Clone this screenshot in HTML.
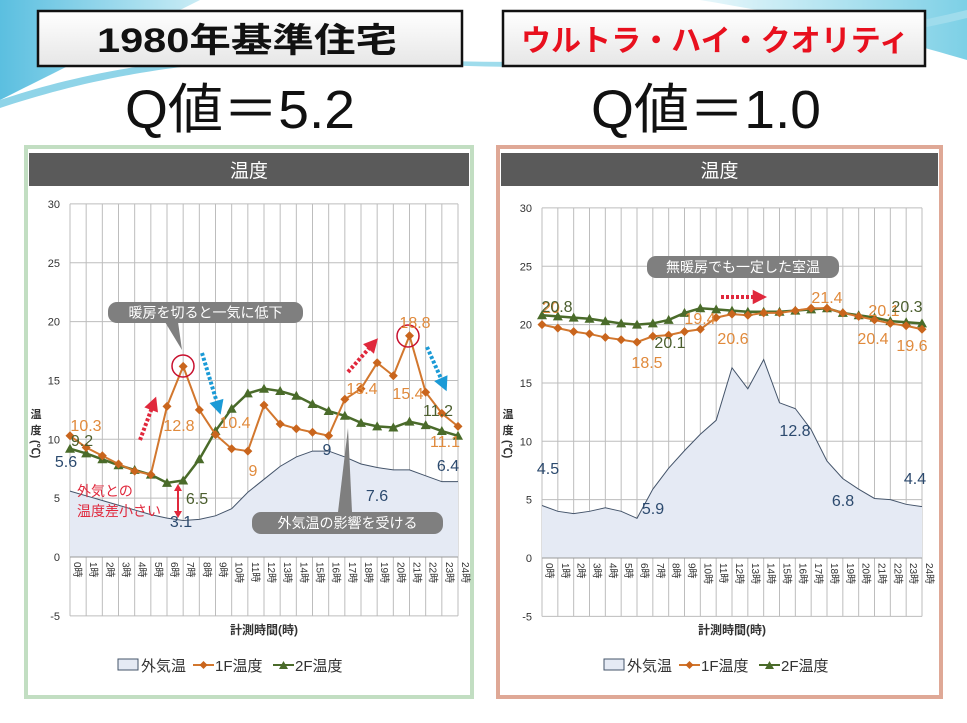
<!DOCTYPE html>
<html><head><meta charset="utf-8"><style>
html,body{margin:0;padding:0;background:#fff;}
svg{display:block;font-family:"Liberation Sans","Noto Sans CJK JP",sans-serif;}
</style></head><body>
<svg id="s" width="967" height="723" viewBox="0 0 967 723" xmlns="http://www.w3.org/2000/svg">
<defs>
<linearGradient id="sw" x1="0" y1="0" x2="1" y2="0"><stop offset="0" stop-color="#5bbfe0"/><stop offset="1" stop-color="#c9ecf5"/></linearGradient>
<linearGradient id="sw2" x1="0" y1="0" x2="1" y2="0"><stop offset="0" stop-color="#e8f7fb"/><stop offset="1" stop-color="#7dd0e6"/></linearGradient>
<linearGradient id="bx" x1="0" y1="0" x2="0" y2="1"><stop offset="0" stop-color="#ffffff"/><stop offset="1" stop-color="#e6e6e6"/></linearGradient>
</defs>
<rect width="967" height="723" fill="#fff"/>
<path d="M0 0 H200 C120 40 60 70 0 100 Z" fill="url(#sw)"/>
<path d="M0 100 C60 80 140 60 260 55 L260 60 C150 66 70 85 0 108 Z" fill="#8fd4e8"/>
<path d="M700 0 H967 V60 C900 40 820 20 700 0 Z" fill="url(#sw2)"/>
<path d="M420 60 C600 68 800 50 967 10 L967 18 C800 58 600 74 420 64 Z" fill="#9fdcec"/>
<rect x="38" y="11" width="424" height="55" fill="url(#bx)" stroke="#111" stroke-width="2.5"/>
<text x="247" y="52" text-anchor="middle" font-size="34" font-weight="bold" fill="#111" textLength="300" lengthAdjust="spacingAndGlyphs">1980年基準住宅</text>
<rect x="503" y="11" width="422" height="55" fill="url(#bx)" stroke="#111" stroke-width="2.5"/>
<text x="715" y="51" text-anchor="middle" font-size="30" font-weight="bold" fill="#e8101e" textLength="388" lengthAdjust="spacingAndGlyphs">ウルトラ・ハイ・クオリティ</text>
<text x="240" y="128" text-anchor="middle" font-size="54" fill="#111" textLength="230" lengthAdjust="spacingAndGlyphs">Q値＝5.2</text>
<text x="706" y="128" text-anchor="middle" font-size="54" fill="#111" textLength="230" lengthAdjust="spacingAndGlyphs">Q値＝1.0</text>
<g id="g"></g>
</svg>
<script>
var NS="http://www.w3.org/2000/svg",G=document.getElementById('g');
function el(t,a,txt){var e=document.createElementNS(NS,t);for(var k in a)e.setAttribute(k,a[k]);if(txt!=null)e.textContent=txt;G.appendChild(e);return e;}
function chart(c){
 el('rect',{x:c.px,y:147,width:c.pw,height:550,fill:'#fff',stroke:c.border,'stroke-width':4});
 el('rect',{x:c.px+3,y:153,width:c.pw-6,height:33,fill:'#5a5a5a'});
 el('text',{x:c.px+c.pw/2,y:177,'text-anchor':'middle','font-size':19,fill:'#fff'},'温度');
 var dx=(c.x1-c.x0)/24;function X(i){return c.x0+i*dx;}function Y(v){return c.y0-v*c.k;}
 for(var v=-5;v<=30;v+=5){el('line',{x1:c.x0,x2:c.x1,y1:Y(v),y2:Y(v),stroke:'#bdbdbd','stroke-width':1});
  el('text',{x:c.x0-10,y:Y(v)+4,'text-anchor':'end','font-size':11,fill:'#333'},v);}
 for(var i=0;i<=24;i++){el('line',{x1:X(i),x2:X(i),y1:Y(30),y2:Y(-5),stroke:'#bdbdbd','stroke-width':1});
  el('text',{transform:'translate('+(X(i)+4)+','+(Y(0)+5)+') rotate(90)','font-size':10,fill:'#333'},i+'時');}
 var d='M'+X(0)+','+Y(0);c.o.forEach(function(v,i){d+=' L'+X(i)+','+Y(v);});d+=' L'+X(24)+','+Y(0)+'Z';
 el('path',{d:d,fill:'#e5eaf4',stroke:'none'});
 var l='';c.o.forEach(function(v,i){l+=(i?' L':'M')+X(i)+','+Y(v);});el('path',{d:l,fill:'none',stroke:'#44546a','stroke-width':1});
 el('line',{x1:c.x0,x2:c.x1,y1:Y(0),y2:Y(0),stroke:'#999'});
 l='';c.g.forEach(function(v,i){l+=(i?' L':'M')+X(i)+','+Y(v);});el('path',{d:l,fill:'none',stroke:'#4a6b2a','stroke-width':2.5});
 c.g.forEach(function(v,i){var x=X(i),y=Y(v);el('path',{d:'M'+(x-5)+','+(y+4)+' L'+x+','+(y-5)+' L'+(x+5)+','+(y+4)+'Z',fill:'#4a6b2a'});});
 l='';c.f.forEach(function(v,i){l+=(i?' L':'M')+X(i)+','+Y(v);});el('path',{d:l,fill:'none',stroke:'#d2772e','stroke-width':2});
 c.f.forEach(function(v,i){var x=X(i),y=Y(v);el('path',{d:'M'+x+','+(y-4.5)+' L'+(x+4.5)+','+y+' L'+x+','+(y+4.5)+' L'+(x-4.5)+','+y+'Z',fill:'#c9651d'});});
 el('text',{x:(c.x0+c.x1)/2,y:634,'text-anchor':'middle','font-size':12,'font-weight':'bold',fill:'#333'},'計測時間(時)');
 var ax=c.px+10;
 el('text',{x:ax,y:418,'text-anchor':'middle','font-size':11,'font-weight':'bold',fill:'#333'},'温');
 el('text',{x:ax,y:434,'text-anchor':'middle','font-size':11,'font-weight':'bold',fill:'#333'},'度');
 el('text',{transform:'translate('+(ax-4)+',440) rotate(90)','font-size':11,'font-weight':'bold',fill:'#333'},'(℃)');
 var lx=c.lx;
 el('rect',{x:lx,y:659,width:20,height:11,fill:'#e5eaf4',stroke:'#44546a'});
 el('text',{x:lx+23,y:671,'font-size':15,fill:'#333'},'外気温');
 el('line',{x1:lx+75,x2:lx+96,y1:665,y2:665,stroke:'#d2772e','stroke-width':2});
 el('path',{d:'M'+(lx+85.5)+',661 l4,4 l-4,4 l-4,-4Z',fill:'#c9651d'});
 el('text',{x:lx+97,y:671,'font-size':15,fill:'#333'},'1F温度');
 el('line',{x1:lx+155,x2:lx+176,y1:665,y2:665,stroke:'#4a6b2a','stroke-width':2});
 el('path',{d:'M'+(lx+161)+',669 l4.5,-8 l4.5,8Z',fill:'#4a6b2a'});
 el('text',{x:lx+177,y:671,'font-size':15,fill:'#333'},'2F温度');
}
function lab(x,y,t,col,fs){el('text',{x:x,y:y,'text-anchor':'middle','font-size':fs||16,fill:col},t);}
function callout(x,y,w,h,t,tip){el('path',{d:tip,fill:'#7f7f7f'});el('rect',{x:x,y:y,width:w,height:h,rx:9,fill:'#7f7f7f'});
 el('text',{x:x+w/2,y:y+h/2+5,'text-anchor':'middle','font-size':14,fill:'#fff'},t);}
function darrow(x1,y1,x2,y2,col){el('line',{x1:x1,y1:y1,x2:x2,y2:y2,stroke:col,'stroke-width':4,'stroke-dasharray':'3,2'});
 var a=Math.atan2(y2-y1,x2-x1),s=9;var p=[x2+Math.cos(a)*s,y2+Math.sin(a)*s,x2+Math.cos(a+2.2)*s,y2+Math.sin(a+2.2)*s,x2+Math.cos(a-2.2)*s,y2+Math.sin(a-2.2)*s];
 el('path',{d:'M'+p[0]+','+p[1]+' L'+p[2]+','+p[3]+' L'+p[4]+','+p[5]+'Z',fill:col});}
var OR='#e08a3c',BL='#2c4a6e',GR='#4b5e2e',RD='#e0283c',CY='#1a9ad6';
chart({px:26,pw:446,border:'#c2dec2',x0:70,x1:458,y0:557,k:11.77,lx:118,
 o:[5.6,5.2,4.8,4.4,4.0,3.6,3.3,3.1,3.2,3.5,4.1,5.5,6.6,7.7,8.5,9.0,9.0,8.5,7.9,7.6,7.4,7.4,6.9,6.4,6.4],
 f:[10.3,9.3,8.6,7.9,7.3,7.0,12.8,16.2,12.5,10.4,9.2,9.0,12.9,11.3,10.9,10.6,10.3,13.4,14.3,16.5,15.4,18.8,14.0,12.2,11.1],
 g:[9.2,8.8,8.3,7.8,7.4,7.0,6.3,6.5,8.3,10.7,12.6,13.9,14.3,14.1,13.7,13.0,12.4,12.0,11.4,11.1,11.0,11.5,11.2,10.7,10.3]});
chart({px:498,pw:443,border:'#dfa896',x0:542,x1:922,y0:558,k:11.67,lx:604,
 o:[4.5,4.0,3.8,4.0,4.3,4.0,3.4,5.9,7.7,9.2,10.6,11.8,16.3,14.5,17.0,13.3,12.8,11.0,8.3,6.8,5.9,5.1,5.0,4.6,4.4],
 f:[20.0,19.7,19.4,19.2,18.9,18.7,18.5,19.0,19.1,19.4,19.6,20.6,20.9,20.8,21.0,21.0,21.2,21.4,21.4,21.0,20.7,20.4,20.1,19.9,19.6],
 g:[20.8,20.7,20.6,20.5,20.3,20.1,20.0,20.1,20.4,21.0,21.4,21.3,21.2,21.1,21.1,21.1,21.2,21.3,21.4,21.0,20.8,20.6,20.3,20.2,20.1]});
callout(108,302,195,21,'暖房を切ると一気に低下','M165,322 L182,350 L178,322Z');
callout(252,512,191,22,'外気温の影響を受ける','M338,512 L348,428 L352,512Z');
el('circle',{cx:183,cy:366,r:11,fill:'none',stroke:'#c8102e','stroke-width':1.5});
el('circle',{cx:408,cy:336,r:11,fill:'none',stroke:'#c8102e','stroke-width':1.5});
darrow(140,440,153,405,RD);darrow(348,372,372,345,RD);darrow(202,353,218,406,CY);darrow(427,347,443,383,CY);
el('line',{x1:178,y1:490,x2:178,y2:512,stroke:RD,'stroke-width':2});
el('path',{d:'M174,491 L178,484 L182,491Z M174,511 L178,518 L182,511Z',fill:RD});
el('text',{x:77,y:496,'font-size':14,fill:RD},'外気との');el('text',{x:77,y:516,'font-size':14,fill:RD},'温度差小さい');
lab(86,431,'10.3',OR);lab(82,446,'9.2',GR);lab(66,467,'5.6',BL);lab(179,431,'12.8',OR);lab(235,428,'10.4',OR);
lab(253,476,'9',OR);lab(197,504,'6.5',GR);lab(181,527,'3.1',BL);lab(327,455,'9',BL);lab(377,501,'7.6',BL);
lab(362,394,'13.4',OR);lab(415,328,'18.8',OR);lab(408,399,'15.4',OR);lab(438,416,'11.2',GR);lab(445,447,'11.1',OR);lab(448,471,'6.4',BL);
callout(647,256,192,22,'無暖房でも一定した室温','M0,0');
darrow(721,297,758,297,RD);
lab(551,313,'20',OR);lab(557,312,'20.8',GR);lab(647,368,'18.5',OR);lab(670,348,'20.1',GR);lab(700,324,'19.4',OR);
lab(733,344,'20.6',OR);lab(827,303,'21.4',OR);lab(884,316,'20.1',OR);lab(907,312,'20.3',GR);lab(873,344,'20.4',OR);lab(912,351,'19.6',OR);
lab(548,474,'4.5',BL);lab(653,514,'5.9',BL);lab(795,436,'12.8',BL);lab(843,506,'6.8',BL);lab(915,484,'4.4',BL);
</script>
</body></html>
